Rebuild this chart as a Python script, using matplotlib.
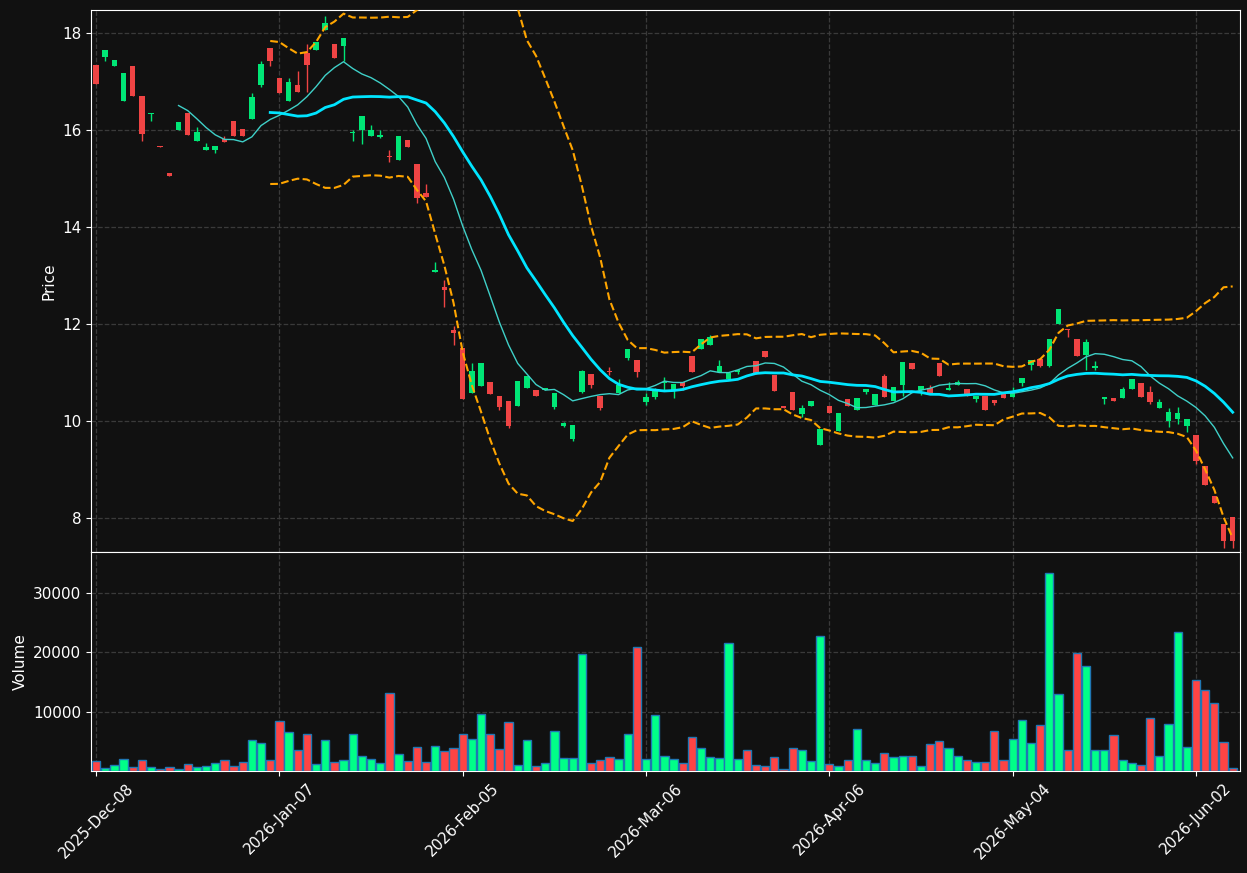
import matplotlib
matplotlib.use('Agg')
import matplotlib.pyplot as plt
import numpy as np
import pandas as pd

# trading days (NYSE holidays skipped)
holidays = ['2025-12-25', '2026-01-01', '2026-01-19', '2026-02-16', '2026-04-03', '2026-05-25']
dates = pd.bdate_range('2025-12-08', periods=125, freq='C', holidays=holidays)

opens = [17.34, 17.50, 17.31, 16.60, 17.32, 16.70, 16.32, 15.66, 15.11, 16.00,
         16.35, 15.77, 15.59, 15.59, 15.81, 16.19, 16.02, 16.23, 16.93, 17.69,
         17.07, 16.60, 16.93, 17.59, 17.65, 18.06, 17.77, 17.73, 15.93, 16.00,
         15.88, 15.86, 15.46, 15.38, 15.79, 15.30, 14.70, 13.07, 12.76, 11.88,
         11.51, 10.58, 10.72, 10.80, 10.52, 10.41, 10.31, 10.68, 10.64, 10.64,
         10.29, 9.90, 9.63, 10.60, 10.97, 10.52, 11.03, 10.58, 11.30, 11.26,
         10.39, 10.49, 10.79, 10.62, 10.80, 11.34, 11.48, 11.57, 11.01, 10.87,
         11.01, 11.37, 11.24, 11.44, 10.95, 10.30, 10.60, 10.14, 10.31, 9.51,
         10.31, 9.79, 10.45, 10.23, 10.60, 10.33, 10.93, 10.41, 10.74, 11.20,
         10.64, 10.68, 11.20, 10.64, 10.74, 10.66, 10.45, 10.52, 10.43, 10.58,
         10.49, 10.78, 11.15, 11.28, 11.13, 12.00, 11.90, 11.69, 11.36, 11.09,
         10.45, 10.47, 10.47, 10.66, 10.78, 10.60, 10.27, 10.00, 10.04, 9.90,
         9.71, 9.07, 8.45, 7.88, 8.02]
closes = [16.95, 17.65, 17.44, 17.18, 16.69, 15.92, 16.35, 15.64, 15.04, 16.16,
          15.90, 15.96, 15.65, 15.67, 15.75, 15.88, 15.88, 16.68, 17.36, 17.42,
          16.76, 16.99, 16.78, 17.34, 17.81, 18.21, 17.48, 17.90, 15.96, 16.29,
          16.00, 15.90, 15.44, 15.88, 15.65, 14.60, 14.62, 13.11, 12.70, 11.81,
          10.45, 11.03, 11.20, 10.56, 10.29, 9.90, 10.82, 10.93, 10.52, 10.67,
          10.58, 9.96, 9.92, 11.03, 10.74, 10.27, 11.01, 10.74, 11.48, 11.01,
          10.49, 10.64, 10.81, 10.76, 10.72, 11.01, 11.69, 11.73, 11.13, 10.99,
          11.05, 11.35, 10.97, 11.32, 10.62, 10.27, 10.23, 10.27, 10.41, 9.84,
          10.16, 10.16, 10.31, 10.47, 10.66, 10.56, 10.49, 10.70, 11.22, 11.07,
          10.72, 10.56, 10.93, 10.68, 10.80, 10.52, 10.52, 10.23, 10.37, 10.47,
          10.62, 10.89, 11.26, 11.13, 11.69, 12.31, 11.88, 11.34, 11.63, 11.13,
          10.49, 10.41, 10.66, 10.87, 10.49, 10.39, 10.39, 10.19, 10.16, 10.04,
          9.18, 8.68, 8.31, 7.53, 7.53]
highs = [17.34, 17.65, 17.44, 17.18, 17.32, 16.70, 16.35, 15.66, 15.11, 16.16,
         16.35, 16.06, 15.73, 15.67, 15.88, 16.19, 16.02, 16.76, 17.42, 17.69,
         17.07, 17.07, 17.22, 17.77, 17.81, 18.35, 17.77, 17.90, 16.00, 16.29,
         16.10, 16.00, 15.59, 15.88, 15.79, 15.30, 14.89, 13.28, 12.91, 11.96,
         11.51, 11.20, 11.20, 10.80, 10.52, 10.41, 10.82, 10.93, 10.64, 10.67,
         10.58, 9.98, 9.92, 11.05, 10.97, 10.52, 11.11, 10.87, 11.48, 11.26,
         10.58, 10.68, 10.91, 10.76, 10.80, 11.34, 11.69, 11.77, 11.26, 10.99,
         11.05, 11.37, 11.24, 11.44, 10.95, 10.30, 10.60, 10.33, 10.41, 9.84,
         10.31, 10.16, 10.45, 10.47, 10.66, 10.56, 10.97, 10.70, 11.22, 11.20,
         10.72, 10.74, 11.20, 10.80, 10.85, 10.66, 10.52, 10.52, 10.43, 10.58,
         10.70, 10.89, 11.26, 11.28, 11.69, 12.31, 11.90, 11.69, 11.69, 11.24,
         10.49, 10.47, 10.70, 10.87, 10.78, 10.72, 10.45, 10.27, 10.29, 10.04,
         9.71, 9.07, 8.45, 7.88, 8.02]
lows = [16.95, 17.42, 17.31, 16.60, 16.69, 15.78, 16.19, 15.64, 15.04, 16.00,
        15.90, 15.77, 15.59, 15.53, 15.75, 15.88, 15.88, 16.23, 16.89, 17.31,
        16.76, 16.60, 16.78, 16.79, 17.65, 18.06, 17.48, 17.42, 15.78, 15.70,
        15.88, 15.83, 15.34, 15.38, 15.65, 14.50, 14.62, 13.07, 12.35, 11.57,
        10.45, 10.58, 10.72, 10.56, 10.23, 9.86, 10.31, 10.68, 10.52, 10.64,
        10.25, 9.88, 9.59, 10.58, 10.68, 10.23, 10.95, 10.58, 11.26, 10.91,
        10.33, 10.45, 10.62, 10.48, 10.64, 11.01, 11.48, 11.57, 11.01, 10.87,
        10.97, 11.35, 10.97, 11.32, 10.62, 10.27, 10.23, 10.08, 10.31, 9.51,
        10.16, 9.79, 10.31, 10.23, 10.56, 10.33, 10.49, 10.41, 10.52, 11.07,
        10.54, 10.56, 10.93, 10.64, 10.74, 10.52, 10.39, 10.23, 10.33, 10.47,
        10.49, 10.72, 11.05, 11.11, 11.11, 12.00, 11.73, 11.34, 11.05, 11.05,
        10.35, 10.41, 10.47, 10.66, 10.49, 10.35, 10.27, 9.88, 9.94, 9.77,
        9.11, 8.68, 8.31, 7.38, 7.38]
volumes = [1640, 450, 1070, 1980, 620, 1810, 620, 280, 620, 280,
           1130, 620, 790, 1300, 1810, 790, 1470, 5200, 4690, 1810,
           8420, 6550, 3500, 6210, 1130, 5200, 1470, 1810, 6210, 2490,
           1980, 1300, 13165, 2825, 1640, 4010, 1470, 4180, 3330, 3840,
           6210, 5370, 9600, 6210, 3670, 8250, 960, 5200, 790, 1300,
           6720, 2150, 2150, 19775, 1300, 1810, 2320, 1980, 6210, 20960,
           1980, 9435, 2490, 1980, 1300, 5710, 3840, 2320, 2150, 21640,
           1980, 3500, 960, 790, 2320, 280, 3840, 3500, 1640, 22830,
           1130, 790, 1810, 7060, 1810, 1300, 2995, 2320, 2490, 2490,
           790, 4520, 5030, 3840, 2490, 1810, 1470, 1470, 6720, 1810,
           5370, 8590, 4690, 7740, 33335, 13000, 3500, 19945, 17740, 3500,
           3500, 6045, 1810, 1300, 960, 8930, 2490, 7910, 23500, 4010,
           15370, 13670, 11470, 4860, 450]

BG = '#111111'
UP = '#00e676'
DOWN = '#ef4444'
VOL_UP = '#00ff88'
VOL_DOWN = '#ff4444'


def main():
    df = pd.DataFrame({'Open': opens, 'High': highs, 'Low': lows,
                       'Close': closes, 'Volume': volumes}, index=dates)
    x = np.arange(len(df))
    up = df['Close'] >= df['Open']

    ma10 = df['Close'].rolling(10).mean()
    ma20 = df['Close'].rolling(20).mean()
    sd20 = df['Close'].rolling(20).std(ddof=0)
    upper = ma20 + 2 * sd20
    lower = ma20 - 2 * sd20

    fig = plt.figure(figsize=(12.47, 8.73), dpi=100, facecolor=BG)
    ax = fig.add_axes([0.073, 0.3677, 0.9214, 0.6208], facecolor=BG)
    axv = fig.add_axes([0.073, 0.1168, 0.9214, 0.2509], facecolor=BG, sharex=ax)

    # candles
    colors = np.where(up, UP, DOWN)
    body_low = np.minimum(df['Open'], df['Close'])
    body_h = np.maximum(np.abs(df['Close'] - df['Open']), 0.02)
    ax.vlines(x, df['Low'], df['High'], colors=colors, linewidth=1, zorder=2)
    ax.bar(x, body_h, bottom=body_low, width=0.6, color=colors, linewidth=0, zorder=3)

    ax.plot(x, ma10, color='#3fd0c8', linewidth=1, zorder=4)
    ax.plot(x, ma20, color='#00e5ff', linewidth=2, zorder=4)
    ax.plot(x, upper, color='#ffa500', linestyle='--', linewidth=1.5, zorder=4)
    ax.plot(x, lower, color='#ffa500', linestyle='--', linewidth=1.5, zorder=4)

    ax.set_ylim(7.30, 18.47)
    ax.set_xlim(-0.55, 124.8)
    ax.set_yticks([8, 10, 12, 14, 16, 18])
    ax.set_ylabel('Price', color='white', fontsize=11)
    ax.tick_params(axis='x', bottom=False, labelbottom=False)

    # volume
    vcolors = np.where(up, VOL_UP, VOL_DOWN)
    axv.bar(x, df['Volume'], width=0.9, color=vcolors, edgecolor='#1f77b4', linewidth=1, zorder=3)
    axv.set_ylim(0, 36900)
    axv.set_yticks([10000, 20000, 30000])
    axv.set_ylabel('Volume', color='white', fontsize=11)

    ticks = list(range(0, len(df), 20))
    axv.set_xticks(ticks)
    axv.set_xticklabels([dates[i].strftime('%Y-%b-%d') for i in ticks], rotation=45)

    for a in (ax, axv):
        a.grid(True, color='#3a3a3a', linestyle='--', linewidth=0.9, zorder=0)
        a.set_axisbelow(True)
        a.tick_params(colors='white', labelsize=11)
        for s in a.spines.values():
            s.set_color('white')

    fig.savefig('out.png', dpi=100, facecolor=BG)


if __name__ == "__main__":
    main()
